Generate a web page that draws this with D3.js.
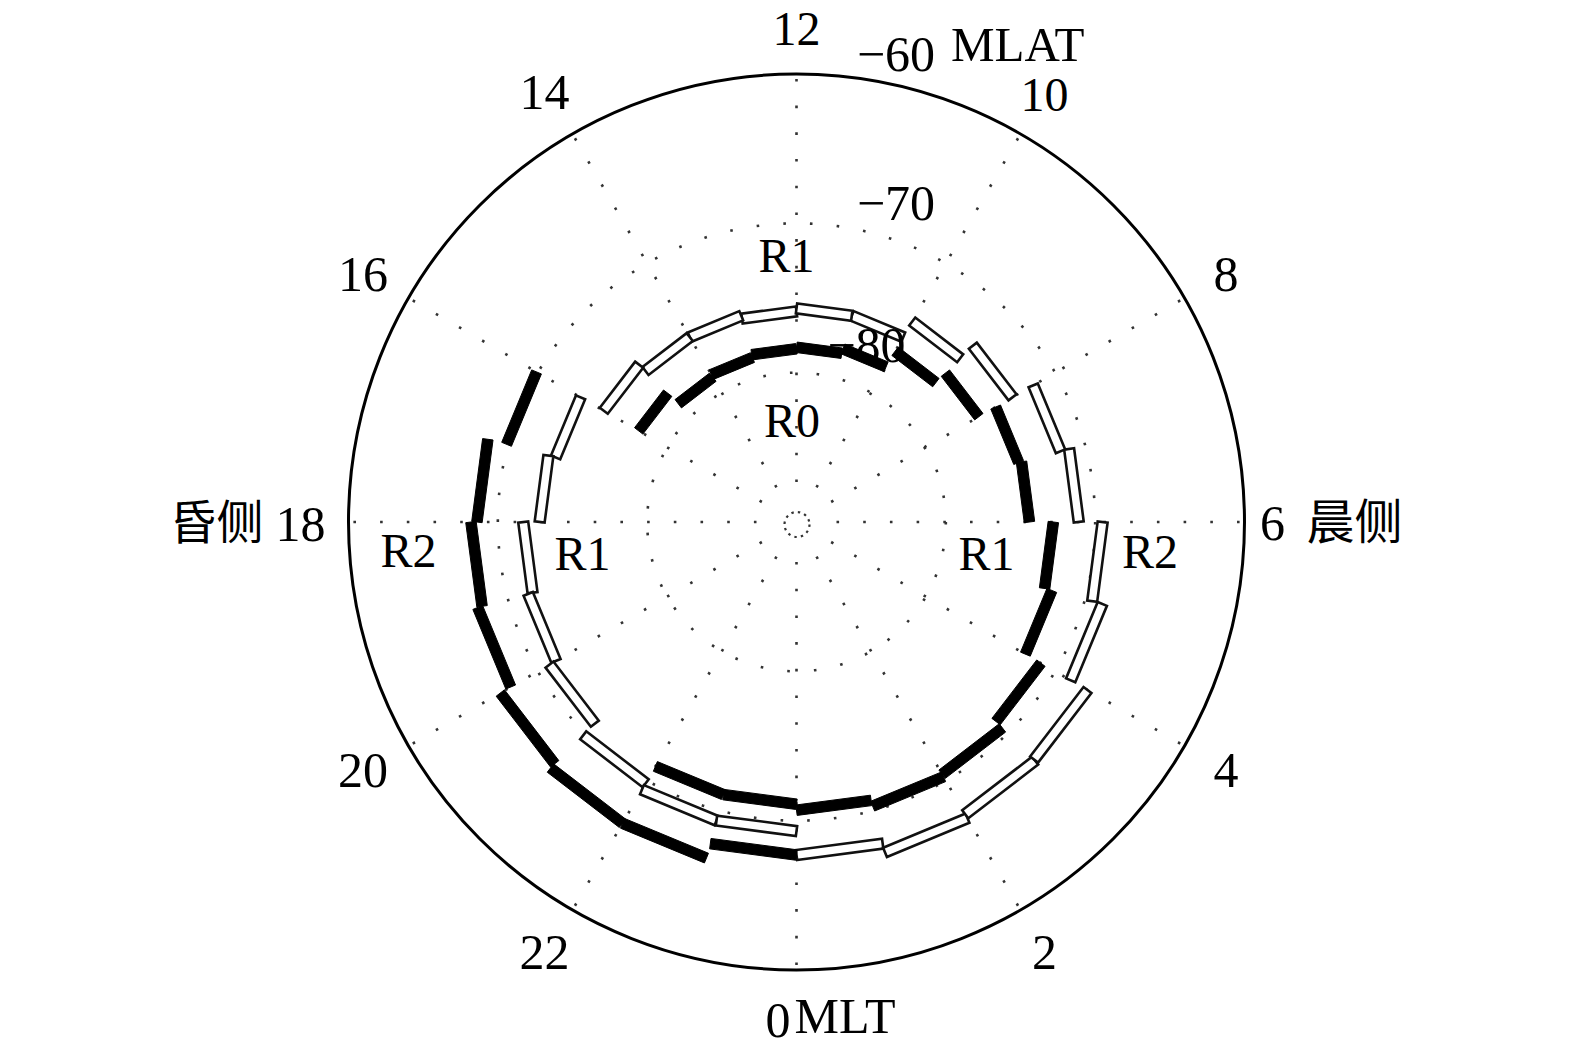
<!DOCTYPE html>
<html><head><meta charset="utf-8">
<script src="https://cdn.jsdelivr.net/npm/d3@7"></script>
<style>html,body{margin:0;padding:0;background:#fff;}svg{display:block;}</style>
</head><body>
<script>
// ---- data (MLT bin start hour, magnetic latitude of segment) ----
const blackStart = [16,17,18,19,20,21,22,23, 22,23,0,1,2,3,4,5,6,7,8,9,10,11,12,13,14,15];
const blackLat   = [-69.9,-68.6,-68.2,-67.9,-67.1,-66.7,-66.7,-67.7,
                    -71.1,-71.1,-70.7,-70.3,-70.5,-71.1,-72.3,-72.8,-74.4,-74.6,-75.9,-76.8,-78.0,-78.3,-78.4,-78.6,-78.8,-77.8];
const whiteStart = [12,13,14,15,16,17,18,19,20,21,22,23,0,1,2,3,4,5,6,7,8,9,10,11];
const whiteLat   = [-75.9,-75.7,-75.7,-75.1,-73.3,-72.8,-71.7,-71.4,-70.9,-69.8,-69.3,-69.3,
                    -67.7,-67.1,-67.4,-67.5,-68.8,-69.5,-71.1,-71.7,-73.3,-74.5,-75.7,-75.7];
const segHours = 1;
const gridLats = [-70,-80];
const spokeHours = [0,2,4,6,8,10,12,14,16,18,20,22];
const hourLabels = ["0","2","4","6","8","10","12","14","16","18","20","22"];
const latLabels = ["\u221260","\u221270","\u221280"];
const latLabelVals = [-60,-70,-80];
const regionLabels = ["R1","R0","R1","R2","R1","R2"];

// ---- layout ----
const W = 1575, H = 1055, cx = 796.5, cy = 522, R = 448;
const svg = d3.select("body").append("svg").attr("width", W).attr("height", H);
svg.append("rect").attr("width", W).attr("height", H).attr("fill", "#fff");

const rScale = d3.scaleLinear().domain([-90, -60]).range([0, R]);
const aScale = d3.scaleLinear().domain([0, 24]).range([Math.PI, -Math.PI]); // clockwise from top, 12 at top
const pt = (h, lat) => { const r = rScale(lat), a = aScale(h); return [cx + r * Math.sin(a), cy - r * Math.cos(a)]; };
const ptR = (h, r) => { const a = aScale(h); return [cx + r * Math.sin(a), cy - r * Math.cos(a)]; };

const g = svg.append("g");

// grid: dotted circles
const dotStyle = s => s.attr("fill", "none").attr("stroke", "#333").attr("stroke-width", 2.6);
gridLats.forEach(l => {
  g.append("circle").attr("cx", cx).attr("cy", cy).attr("r", rScale(l))
    .call(dotStyle).attr("stroke-dasharray", "2.6 24.2");
});
g.append("circle").attr("cx", cx + 0.5).attr("cy", cy + 2.5).attr("r", 12.5)
  .call(dotStyle).attr("stroke-width", 2.2).attr("stroke-dasharray", "2.4 4.2");

// spokes
spokeHours.forEach(h => {
  const p0 = ptR(h, 40), p1 = pt(h, -60.2);
  g.append("line").attr("x1", p0[0]).attr("y1", p0[1]).attr("x2", p1[0]).attr("y2", p1[1])
    .call(dotStyle).attr("stroke-dasharray", "2.6 24.1");
});

// outer circle
g.append("circle").attr("cx", cx).attr("cy", cy).attr("r", rScale(-60))
  .attr("fill", "none").attr("stroke", "#000").attr("stroke-width", 3);

// bar polygon
function barPoly(h, lat, w) {
  const a = pt(h, lat), b = pt(h + segHours, lat);
  const dx = b[0] - a[0], dy = b[1] - a[1], L = Math.hypot(dx, dy);
  const nx = -dy / L * w / 2, ny = dx / L * w / 2;
  return [[a[0]+nx, a[1]+ny], [b[0]+nx, b[1]+ny], [b[0]-nx, b[1]-ny], [a[0]-nx, a[1]-ny]];
}
const line = d3.line();

const whiteData = whiteStart.map((h, i) => ({h, lat: whiteLat[i]}));
const blackData = blackStart.map((h, i) => ({h, lat: blackLat[i]}));

g.selectAll("path.white").data(whiteData).join("path").attr("class", "white")
  .attr("d", d => line(barPoly(d.h, d.lat, 10)) + "Z")
  .attr("fill", "#fff").attr("stroke", "#111").attr("stroke-width", 2.6).attr("stroke-linejoin", "miter");

g.selectAll("path.black").data(blackData).join("path").attr("class", "black")
  .attr("d", d => line(barPoly(d.h, d.lat, 10.5)) + "Z")
  .attr("fill", "#000").attr("stroke", "#000").attr("stroke-width", 1);

// ---- text ----
const serif = "'Liberation Serif', 'Times New Roman', serif";
const cjk = "'Noto Sans CJK SC', sans-serif";
const T = (x, y, s, anchor, font, size) => svg.append("text").attr("x", x).attr("y", y).text(s)
  .attr("text-anchor", anchor || "middle").attr("font-family", font || serif)
  .attr("font-size", size || 50).attr("fill", "#000");

spokeHours.forEach((h, i) => {
  const lab = hourLabels[i];
  const p = ptR(h, 496);
  if (lab === "18") {
    T(p[0], p[1] + 19, "18");
    T(p[0] - 37, p[1] + 17, "昏侧", "end", cjk, 47);
  } else if (lab === "6") {
    const q = ptR(h, 476);
    T(q[0], q[1] + 18, "6");
    T(q[0] + 34, q[1] + 17, "晨侧", "start", cjk, 48);
  } else if (lab === "0") {
    T(cx - 6, 1037, "0", "end");
    T(cx - 2, 1033, "MLT", "start");
  } else if (lab === "12") {
    T(p[0], p[1] + 19, lab, "middle", serif, 48);
  } else if (lab === "10") {
    T(p[0], p[1] + 19, lab, "middle", serif, 48);
  } else {
    const dx = (h > 12) ? -4 : 0;
    T(p[0] + dx, p[1] + 17, lab);
  }
});

// latitude labels
const latOff = [[99.5, 3], [99.5, 3.3], [70, 11]];
latLabelVals.forEach((l, i) => {
  const o = latOff[i];
  T(cx + o[0], cy - rScale(l) - o[1], latLabels[i]);
});
T(951, cy - rScale(-60) - 13, "MLAT", "start", serif, 49);

// region labels
const regionPos = [[786.5, 272], [792, 437], [582.5, 570], [408.5, 567], [986.5, 570], [1150, 568]];
regionLabels.forEach((s, i) => T(regionPos[i][0], regionPos[i][1], s, "middle", serif, 48));
</script>
</body></html>
